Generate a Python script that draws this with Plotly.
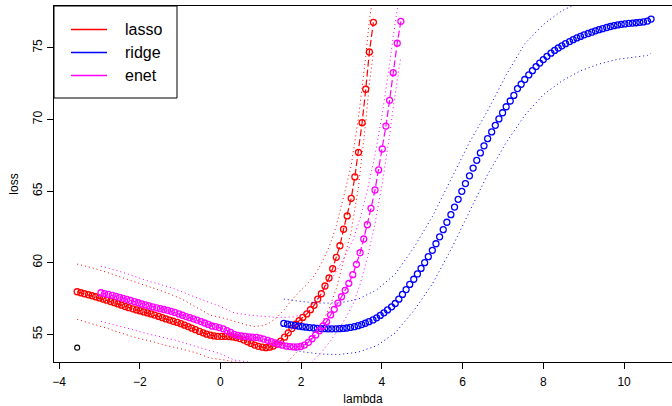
import plotly.graph_objects as go

# ---------------- data ----------------
lasso_x = [-3.55, -3.46, -3.37, -3.27, -3.18, -3.09, -3.00, -2.91, -2.82, -2.72,
           -2.63, -2.54, -2.45, -2.36, -2.27, -2.17, -2.08, -1.99, -1.90, -1.81,
           -1.72, -1.63, -1.53, -1.44, -1.35, -1.26, -1.17, -1.07, -0.98, -0.89,
           -0.80, -0.71, -0.62, -0.52, -0.43, -0.34, -0.25, -0.16, -0.07, 0.03,
           0.12, 0.21, 0.30, 0.39, 0.48, 0.58, 0.67, 0.76, 0.85, 0.94,
           1.04, 1.13, 1.22, 1.31, 1.40, 1.49, 1.59, 1.68, 1.77, 1.86,
           1.95, 2.04, 2.14, 2.23, 2.32, 2.41, 2.50, 2.59, 2.69, 2.78,
           2.87, 2.96, 3.05, 3.14, 3.24, 3.33, 3.42, 3.51, 3.60, 3.69, 3.79]
lasso_y = [57.97, 57.90, 57.83, 57.76, 57.69, 57.62, 57.54, 57.46, 57.38, 57.29,
           57.21, 57.12, 57.03, 56.94, 56.86, 56.78, 56.70, 56.63, 56.56, 56.49,
           56.42, 56.34, 56.25, 56.16, 56.07, 55.99, 55.91, 55.83, 55.74, 55.64,
           55.54, 55.43, 55.32, 55.20, 55.10, 55.01, 54.94, 54.89, 54.86, 54.85,
           54.85, 54.84, 54.82, 54.77, 54.70, 54.60, 54.48, 54.36, 54.25, 54.16,
           54.10, 54.07, 54.10, 54.18, 54.32, 54.52, 54.80, 55.10, 55.40, 55.70,
           55.95, 56.18, 56.42, 56.72, 57.02, 57.46, 57.83, 58.37, 58.93, 59.58,
           60.37, 61.18, 62.33, 63.26, 64.49, 65.98, 67.70, 69.77, 72.10, 74.70, 76.77]

lasso_band_x = [-3.55, -3.18, -2.82, -2.45, -2.08, -1.72, -1.35, -0.98, -0.62, -0.25,
                0.12, 0.48, 0.67, 0.85, 1.04, 1.22, 1.40, 1.59, 1.77, 1.95,
                2.14, 2.32, 2.50, 2.69, 2.87, 3.05, 3.24, 3.42, 3.51, 3.60, 3.69, 3.79]
lasso_hi = [59.90, 59.64, 59.33, 58.98, 58.65, 58.32, 57.92, 57.49, 56.92, 56.34,
            56.10, 55.80, 55.63, 55.55, 55.60, 55.80, 56.17, 56.75, 57.40, 57.95,
            58.47, 59.07, 59.93, 61.08, 62.57, 64.58, 66.79, 70.10, 72.17, 74.40, 76.90, 78.87]
lasso_lo = [56.04, 55.74, 55.43, 55.08, 54.75, 54.52, 54.22, 53.99, 53.72, 53.34,
            53.20, 53.00, 52.73, 52.45, 52.25, 52.20, 52.37, 52.85, 53.40, 53.95,
            54.37, 54.97, 55.73, 56.78, 58.17, 60.08, 62.19, 65.30, 67.37, 69.80, 72.50, 74.67]

ridge_x = [1.57, 1.66, 1.75, 1.85, 1.94, 2.03, 2.12, 2.21, 2.31, 2.40,
           2.49, 2.58, 2.67, 2.76, 2.86, 2.95, 3.04, 3.13, 3.22, 3.32,
           3.41, 3.50, 3.59, 3.68, 3.78, 3.87, 3.96, 4.05, 4.14, 4.24,
           4.33, 4.42, 4.51, 4.60, 4.69, 4.79, 4.88, 4.97, 5.06, 5.15,
           5.25, 5.34, 5.43, 5.52, 5.61, 5.71, 5.80, 5.89, 5.98, 6.07,
           6.17, 6.26, 6.35, 6.44, 6.53, 6.62, 6.72, 6.81, 6.90, 6.99,
           7.08, 7.18, 7.27, 7.36, 7.45, 7.54, 7.64, 7.73, 7.82, 7.91,
           8.00, 8.09, 8.19, 8.28, 8.37, 8.46, 8.55, 8.65, 8.74, 8.83,
           8.92, 9.01, 9.11, 9.20, 9.29, 9.38, 9.47, 9.57, 9.66, 9.75,
           9.84, 9.93, 10.02, 10.12, 10.21, 10.30, 10.39, 10.48, 10.58, 10.67]
ridge_y = [55.76, 55.71, 55.66, 55.61, 55.57, 55.53, 55.50, 55.47, 55.44, 55.42,
           55.40, 55.39, 55.38, 55.38, 55.38, 55.39, 55.41, 55.44, 55.48, 55.53,
           55.60, 55.68, 55.77, 55.88, 56.00, 56.15, 56.32, 56.50, 56.70, 56.92,
           57.15, 57.45, 57.78, 58.12, 58.48, 58.84, 59.21, 59.60, 60.00, 60.42,
           60.86, 61.32, 61.80, 62.30, 62.82, 63.35, 63.88, 64.42, 64.98, 65.52,
           66.06, 66.60, 67.14, 67.66, 68.15, 68.65, 69.12, 69.58, 70.03, 70.46,
           70.88, 71.28, 71.67, 72.15, 72.45, 72.78, 73.10, 73.40, 73.68, 73.93,
           74.17, 74.40, 74.62, 74.81, 74.98, 75.13, 75.28, 75.43, 75.56, 75.68,
           75.79, 75.90, 75.99, 76.08, 76.18, 76.26, 76.33, 76.41, 76.48, 76.54,
           76.59, 76.63, 76.66, 76.70, 76.72, 76.74, 76.77, 76.80, 76.86, 77.00]

ridge_band_x = [1.57, 2.03, 2.49, 2.95, 3.41, 3.87, 4.33, 4.79, 5.25, 5.71,
                6.17, 6.62, 7.08, 7.54, 8.00, 8.46, 8.92, 9.38, 9.84, 10.30, 10.58, 10.67]
ridge_hi = [57.46, 57.28, 57.18, 57.19, 57.45, 58.10, 59.20, 61.04, 63.21, 65.80,
            68.40, 70.60, 73.10, 75.28, 76.62, 77.58, 78.19, 78.66, 78.99, 79.14, 79.30, 79.40]
ridge_lo = [54.06, 53.78, 53.62, 53.59, 53.75, 54.20, 55.10, 56.64, 58.51, 60.90,
            63.56, 66.15, 68.38, 70.28, 71.72, 72.68, 73.39, 73.86, 74.19, 74.34, 74.46, 74.61]

enet_x = [-2.96, -2.87, -2.78, -2.68, -2.59, -2.50, -2.41, -2.32, -2.23, -2.13,
          -2.04, -1.95, -1.86, -1.77, -1.68, -1.58, -1.49, -1.40, -1.31, -1.22,
          -1.13, -1.03, -0.94, -0.85, -0.76, -0.67, -0.58, -0.48, -0.39, -0.30,
          -0.21, -0.12, -0.03, 0.07, 0.16, 0.25, 0.34, 0.43, 0.52, 0.62,
          0.71, 0.80, 0.89, 0.98, 1.07, 1.17, 1.26, 1.35, 1.44, 1.53,
          1.63, 1.72, 1.81, 1.90, 1.99, 2.08, 2.18, 2.27, 2.36, 2.45,
          2.54, 2.63, 2.73, 2.82, 2.91, 3.00, 3.09, 3.18, 3.28, 3.37,
          3.46, 3.55, 3.64, 3.73, 3.83, 3.92, 4.01, 4.10, 4.19, 4.28, 4.38, 4.47]
enet_y = [57.90, 57.84, 57.78, 57.72, 57.65, 57.58, 57.51, 57.44, 57.36, 57.28,
          57.20, 57.12, 57.05, 56.98, 56.91, 56.85, 56.79, 56.73, 56.67, 56.60,
          56.53, 56.42, 56.33, 56.24, 56.16, 56.08, 55.99, 55.89, 55.79, 55.69,
          55.58, 55.54, 55.47, 55.38, 55.26, 55.13, 55.00, 54.92, 54.88, 54.85,
          54.82, 54.80, 54.78, 54.74, 54.67, 54.58, 54.49, 54.40, 54.32, 54.24,
          54.18, 54.14, 54.12, 54.12, 54.15, 54.25, 54.44, 54.69, 54.95, 55.25,
          55.58, 55.88, 56.35, 56.74, 57.18, 57.62, 58.07, 58.56, 59.16, 59.88,
          60.69, 61.65, 62.65, 63.79, 65.07, 66.47, 67.93, 69.53, 71.33, 73.26, 75.31, 76.84]

enet_band_x = [-2.96, -2.59, -2.23, -1.86, -1.49, -1.13, -0.76, -0.39, -0.03, 0.34,
               0.71, 1.07, 1.44, 1.81, 1.99, 2.18, 2.36, 2.54, 2.73, 2.91,
               3.09, 3.28, 3.46, 3.64, 3.83, 4.01, 4.10, 4.19, 4.28, 4.38, 4.47]
enet_hi = [59.75, 59.47, 59.14, 58.78, 58.48, 58.17, 57.74, 57.33, 56.97, 56.50,
           56.34, 56.25, 56.17, 56.22, 56.35, 56.74, 57.30, 57.98, 58.75, 59.58,
           60.47, 61.56, 63.09, 65.05, 67.52, 70.38, 71.98, 73.83, 75.76, 77.81, 79.34]
enet_lo = [55.90, 55.65, 55.37, 55.07, 54.83, 54.60, 54.28, 53.95, 53.67, 53.20,
           53.04, 52.92, 52.62, 52.47, 52.53, 52.84, 53.33, 53.88, 54.55, 55.28,
           56.07, 57.06, 58.49, 60.35, 62.72, 65.53, 67.13, 68.88, 70.81, 72.84, 74.37]

stray_x = [-3.55]
stray_y = [54.07]

series_names = ["lasso", "ridge", "enet"]
series_colors = ["#FF0000", "#0000FF", "#FF00FF"]
x_ticks = [-4, -2, 0, 2, 4, 6, 8, 10]
y_ticks = [55, 60, 65, 70, 75]

# ---------------- figure ----------------
FONT = "Liberation Sans, Arial, Helvetica, sans-serif"
W, H = 672, 406
ML, MT, MB, MR = 54, 6, 44, 0
PW, PH = W - ML - MR, H - MT - MB

fig = go.Figure()

fig.add_trace(go.Scatter(x=stray_x, y=stray_y, mode="markers", showlegend=False,
                         marker=dict(symbol="circle-open", size=5, color="black",
                                     line=dict(width=1.1, color="black"))))

DOT = "1px,3px"

def band(x, y, color):
    fig.add_trace(go.Scatter(x=x, y=y, mode="lines", showlegend=False,
                             line=dict(color=color, width=1, dash=DOT)))

# lasso
band(lasso_band_x, lasso_hi, series_colors[0])
band(lasso_band_x, lasso_lo, series_colors[0])
fig.add_trace(go.Scatter(x=lasso_x, y=lasso_y, mode="lines+markers", name=series_names[0],
                         showlegend=False,
                         line=dict(color=series_colors[0], width=1.2, dash="7px,3px"),
                         marker=dict(symbol="circle-open", size=6, color=series_colors[0],
                                     line=dict(width=1.3, color=series_colors[0]))))
# ridge
band(ridge_band_x, ridge_hi, series_colors[1])
band(ridge_band_x, ridge_lo, series_colors[1])
fig.add_trace(go.Scatter(x=ridge_x, y=ridge_y, mode="markers", name=series_names[1],
                         showlegend=False,
                         marker=dict(symbol="circle-open", size=6, color=series_colors[1],
                                     line=dict(width=1.3, color=series_colors[1]))))
# enet
band(enet_band_x, enet_hi, series_colors[2])
band(enet_band_x, enet_lo, series_colors[2])
fig.add_trace(go.Scatter(x=enet_x, y=enet_y, mode="lines+markers", name=series_names[2],
                         showlegend=False,
                         line=dict(color=series_colors[2], width=1.2, dash="7px,3px"),
                         marker=dict(symbol="circle-open", size=6, color=series_colors[2],
                                     line=dict(width=1.3, color=series_colors[2]))))

# ---- legend box (R style), placed in paper coordinates ----
def px_x(p):
    return (p - ML) / PW

def px_y(p):
    return 1 - (p - MT) / PH

shapes = [dict(type="rect", xref="paper", yref="paper",
               x0=px_x(54), x1=px_x(177), y0=px_y(98), y1=px_y(6),
               line=dict(color="black", width=1), fillcolor="white", layer="above")]
annotations = []
row_y = [29.5, 52.5, 75.5]
for name, col, ry in zip(series_names, series_colors, row_y):
    shapes.append(dict(type="line", xref="paper", yref="paper",
                       x0=px_x(71), x1=px_x(107), y0=px_y(ry), y1=px_y(ry),
                       line=dict(color=col, width=1.4), layer="above"))
    annotations.append(dict(xref="paper", yref="paper", x=px_x(123), y=px_y(ry),
                            text=name, showarrow=False, xanchor="left", yanchor="middle",
                            font=dict(family=FONT, size=16, color="black")))

fig.update_layout(
    width=W, height=H,
    margin=dict(l=ML, r=MR, t=MT, b=MB, autoexpand=False),
    paper_bgcolor="white", plot_bgcolor="white",
    font=dict(family=FONT, size=12, color="black"),
    showlegend=False,
    shapes=shapes, annotations=annotations,
    xaxis=dict(range=[-4.124, 11.188], tickmode="array", tickvals=x_ticks,
               ticks="outside", ticklen=6, tickcolor="black", tickwidth=1,
               showline=True, linecolor="black", linewidth=1, mirror=True,
               showgrid=False, zeroline=False, automargin=False,
               ticklabelstandoff=3,
               tickfont=dict(family=FONT, size=12),
               title=dict(text="lambda", font=dict(family=FONT, size=12), standoff=10)),
    yaxis=dict(range=[53.067, 77.91], tickmode="array", tickvals=y_ticks,
               ticks="outside", ticklen=6, tickcolor="black", tickwidth=1,
               showline=True, linecolor="black", linewidth=1, mirror=False,
               showgrid=False, zeroline=False, tickangle=-90, automargin=False,
               tickfont=dict(family=FONT, size=12),
               title=dict(text="loss", font=dict(family=FONT, size=12), standoff=10)),
)

fig.write_html("out.html", config={"displayModeBar": False},
               post_script="document.body.style.margin='0';")
